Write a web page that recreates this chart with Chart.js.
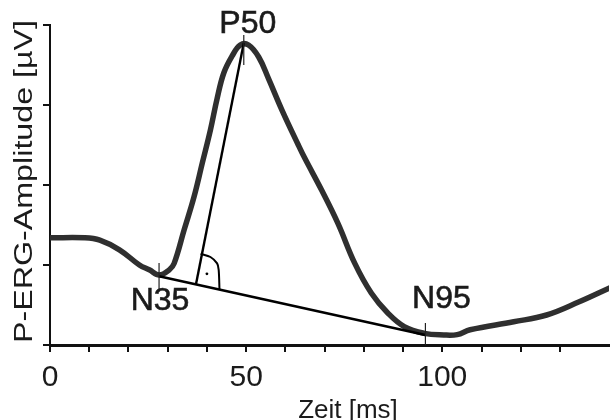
<!DOCTYPE html>
<html><head><meta charset="utf-8">
<script src="https://cdn.jsdelivr.net/npm/chart.js@4"></script>
<style>html,body{margin:0;padding:0;background:#fff}#wrap{width:613px;height:420px;position:relative}</style>
</head><body><div id="wrap"><canvas id="c"></canvas></div>
<script>
// P-ERG waveform (time in ms, amplitude in tick units)
const timeMs = [0, 8.9, 12.7, 17.7, 22.8, 25.3, 27.85, 30.4, 31.65, 34.2, 36.7, 38.8, 40.9, 42.6, 44.3, 46.4, 48.5, 50.6, 53.2, 55.7, 59.1, 63.3, 65.0, 69.2, 73.4, 77.7, 81.9, 86.1, 90.3, 95.4, 100.4, 103.8, 107.1, 118.2, 126.6, 134.9, 142.5];
const amplitudeUV = [1.34, 1.34, 1.31, 1.19, 1.0, 0.94, 0.875, 0.94, 1.02, 1.44, 1.85, 2.27, 2.69, 3.08, 3.40, 3.61, 3.75, 3.75, 3.60, 3.33, 2.94, 2.50, 2.33, 1.94, 1.52, 1.02, 0.65, 0.40, 0.23, 0.146, 0.125, 0.13, 0.19, 0.29, 0.375, 0.54, 0.71];

// Peaks
const peakNames = ['N35', 'P50', 'N95'];
const peakTimes = [27.8, 49.4, 95.7];
const peakAmps  = [0.86, 3.775, 0.125];
// Peak marker segments (vertical)
const markerLow  = [0.69, 3.50, 0.0];
const markerHigh = [1.025, 3.875, 0.275];
// Foot of the perpendicular from P50 onto the N35–N95 line
const footTime = 37.2, footAmp = 0.755;
// Right-angle symbol
const angleTimes = [38.4, 40.9, 42.6, 43.0, 43.2];
const angleAmps  = [1.14, 1.10, 1.02, 0.94, 0.70];
const dotTime = 40.0, dotAmp = 0.89;

// Axes
const xTickLabels = [0, 50, 100];
const xMin = 0, xMax = 142.5, xStep = 10;
const yMin = 0, yMax = 4, yStep = 1;
const xTitle = 'Zeit [ms]';
const yTitle = 'P-ERG-Amplitude [µV]';

const FONT = "'Liberation Sans', Arial, sans-serif";
const INK = '#1b1b1b';

const pts = (xs, ys) => xs.map((x, i) => ({x, y: ys[i]}));

const datasets = [];
peakTimes.forEach((t, i) => {
  datasets.push({data: [{x: t, y: markerLow[i]}, {x: t, y: markerHigh[i]}], showLine: true, borderColor: '#222', borderWidth: 1.2, pointRadius: 0});
});
datasets.push({data: [{x: peakTimes[0], y: peakAmps[0]}, {x: peakTimes[2], y: peakAmps[2]}], showLine: true, borderColor: '#000', borderWidth: 2.6, pointRadius: 0});
datasets.push({data: [{x: peakTimes[1], y: peakAmps[1]}, {x: footTime, y: footAmp}], showLine: true, borderColor: '#000', borderWidth: 2.4, pointRadius: 0});
datasets.push({data: pts(angleTimes, angleAmps), showLine: true, borderColor: '#000', borderWidth: 2, pointRadius: 0, tension: 0.3});
datasets.push({data: [{x: dotTime, y: dotAmp}], showLine: false, pointRadius: 1.4, pointBackgroundColor: '#000', pointBorderWidth: 0});
datasets.push({data: pts(timeMs, amplitudeUV), showLine: true, borderColor: '#2f2f2f', borderWidth: 5.5, pointRadius: 0, tension: 0.4, borderCapStyle: 'round', borderJoinStyle: 'round'});

const textPlugin = {
  id: 'texts',
  afterDraw(chart) {
    const {ctx, scales: {x, y}} = chart;
    ctx.save();
    ctx.fillStyle = INK;
    ctx.strokeStyle = INK;
    ctx.lineWidth = 0.6;
    ctx.textAlign = 'center';
    ctx.textBaseline = 'alphabetic';
    ctx.font = '32px ' + FONT;
    // peak labels
    const offs = [[1, 34], [4, -10], [16, -27]];
    peakNames.forEach((n, i) => {
      const px = x.getPixelForValue(peakTimes[i]) + offs[i][0];
      const py = y.getPixelForValue(peakAmps[i]) + offs[i][1];
      ctx.fillText(n, px, py);
      ctx.strokeText(n, px, py);
    });
    // x title
    ctx.font = '26px ' + FONT;
    ctx.fillText(xTitle, 348, 418);
    // y title (rotated)
    ctx.translate(32, 181.5);
    ctx.rotate(-Math.PI / 2);
    ctx.scale(1.24, 1);
    ctx.font = '26px ' + FONT;
    ctx.fillText(yTitle, 0, 0);
    ctx.restore();
  }
};

new Chart(document.getElementById('c'), {
  type: 'scatter',
  data: {datasets},
  options: {
    responsive: true,
    maintainAspectRatio: false,
    animation: false,
    layout: {padding: {top: 25, right: 0, left: 0, bottom: 0}},
    plugins: {legend: {display: false}, tooltip: {enabled: false}},
    scales: {
      x: {
        type: 'linear', min: xMin, max: xMax,
        afterBuildTicks: s => { s.ticks = s.ticks.filter(t => Math.abs(t.value % xStep) < 1e-6); },
        afterFit: s => { s.height = 75; },
        border: {display: true, color: '#111', width: 3},
        grid: {drawOnChartArea: false, drawTicks: true, tickLength: 7, color: '#111', lineWidth: 2},
        ticks: {stepSize: xStep, autoSkip: false, maxRotation: 0, padding: 8, color: INK,
          font: {family: FONT, size: 30},
          callback: v => xTickLabels.includes(v) ? String(v) : ''}
      },
      y: {
        type: 'linear', min: yMin, max: yMax,
        afterFit: s => { s.width = 50; },
        border: {display: true, color: '#111', width: 2},
        grid: {drawOnChartArea: false, drawTicks: true, tickLength: 7, color: '#111', lineWidth: 2},
        ticks: {stepSize: yStep, display: false}
      }
    }
  },
  plugins: [textPlugin]
});
</script></body></html>
